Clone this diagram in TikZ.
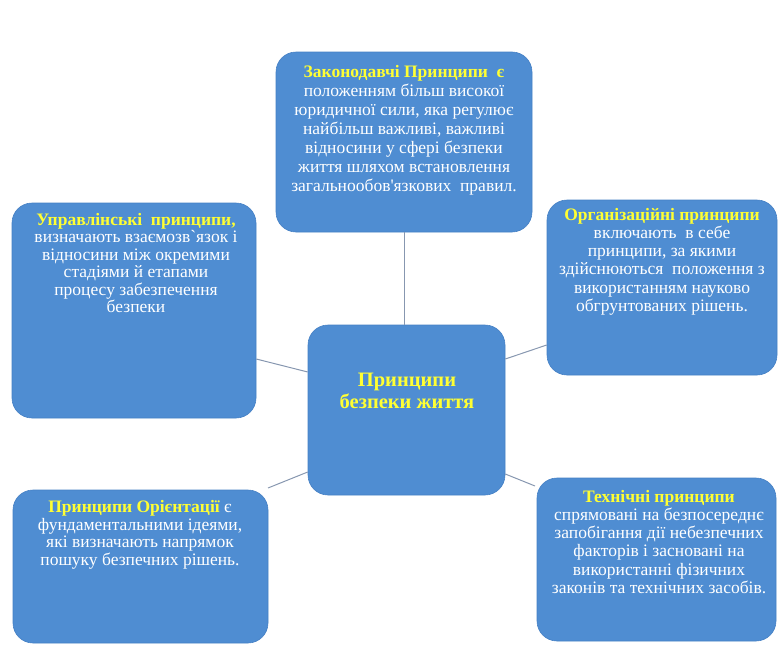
\documentclass[tikz,border=0pt]{standalone}
\usepackage{fontspec}
\setmainfont{Liberation Serif}[Ligatures=TeXOff]
\definecolor{boxfill}{HTML}{4F8DD2}
\definecolor{boxedge}{HTML}{4580C4}
\definecolor{hl}{HTML}{FFFF33}
\definecolor{conncol}{HTML}{8797B0}
\tikzset{
  box/.style={fill=boxfill, draw=boxedge, line width=0.6pt, rounded corners=20pt, inner sep=0pt},
  boxtext/.style={text=white, align=center, inner sep=0pt, anchor=north,
    font=\fontsize{17.5}{18.2}\selectfont},
  conn/.style={draw=conncol, line width=1pt},
}
\newcommand{\hd}[1]{\textbf{\textcolor{hl}{#1}}}
\begin{document}
\begin{tikzpicture}[x=1pt,y=-1pt]
\useasboundingbox (0,0) rectangle (778,645);
% boxes
\node[box, minimum width=256pt, minimum height=180pt] (Tb) at (404,142) {};
\node[box, minimum width=244pt, minimum height=215pt] (L) at (134,310.5) {};
\node[box, minimum width=230pt, minimum height=175pt] (R) at (662,287.5) {};
\node[box, minimum width=197pt, minimum height=170pt] (C) at (406.5,410) {};
\node[box, minimum width=255pt, minimum height=153pt] (BL) at (140.5,566.5) {};
\node[box, minimum width=239pt, minimum height=163pt] (BR) at (656.5,559.5) {};
% texts
\node[boxtext, font=\fontsize{17.5}{19}\selectfont] (Tt) at (404,65) {\hd{Законодавчі Принципи \ є}\\ положенням більш високої\\ юридичної сили, яка регулює\\ найбільш важливі, важливі\\ відносини у сфері безпеки\\ життя шляхом встановлення\\ загальнообов'язкових \ правил.};
\node[boxtext, font=\fontsize{17.5}{17.5}\selectfont] (Lt) at (136,213) {\hd{Управлінські \ принципи,}\\ визначають взаємозв`язок і\\ відносини між окремими\\ стадіями й етапами\\ процесу забезпечення\\ безпеки};
\node[boxtext] (Rt) at (662,208) {\hd{Організаційні принципи}\\ включають \ в себе\\ принципи, за якими\\ здійснюються \ положення з\\ використанням науково\\ обгрунтованих рішень.};
\node[boxtext, font=\fontsize{17.5}{17.8}\selectfont] (BLt) at (140,500) {\hd{Принципи Орієнтації} є\\ фундаментальними ідеями,\\ які визначають напрямок\\ пошуку безпечних рішень.};
\node[boxtext] (BRt) at (659,490) {\hd{Технічні принципи}\\ спрямовані на безпосереднє\\ запобігання дії небезпечних\\ факторів і засновані на\\ використанні фізичних\\ законів та технічних засобів.};
\node[align=center, inner sep=0pt, font=\fontsize{20.5}{22}\selectfont\bfseries, text=hl] (Ct) at (407,391) {Принципи\\ безпеки життя};
% connectors
\coordinate (blc) at (268,488);
\coordinate (brc) at (535,486);
\draw[conn] (Tb.south) -- (Tb.south |- C.north);
\draw[conn] (L.east |- {0,359}) -- (C.west |- {0,372});
\draw[conn] (C.east |- {0,359}) -- (R.west |- {0,345});
\draw[conn] (blc) -- (C.west |- {0,472});
\draw[conn] (C.east |- {0,474}) -- (brc);
\end{tikzpicture}
\end{document}
